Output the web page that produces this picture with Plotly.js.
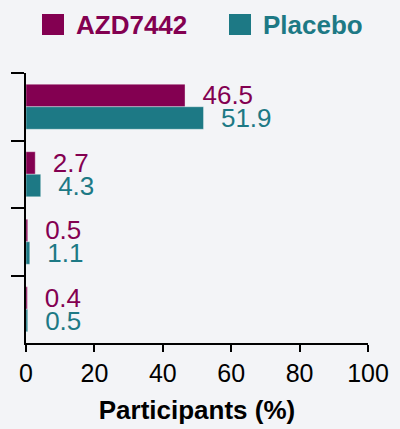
<!DOCTYPE html>
<html>
<head>
<meta charset="utf-8">
<script src="https://cdn.plot.ly/plotly-3.0.1.min.js"></script>
<style>html,body{margin:0;padding:0;background:#f3f4f7;}</style>
</head>
<body>
<div id="chart" style="width:400px;height:429px;"></div>
<script>
const categories = ["Cat 1", "Cat 2", "Cat 3", "Cat 4"];
const seriesNames = ["AZD7442", "Placebo"];
const azdValues = [46.5, 2.7, 0.5, 0.4];
const placeboValues = [51.9, 4.3, 1.1, 0.5];
const xTicks = [0, 20, 40, 60, 80, 100];
const colors = ["#830051", "#1d7985"];

const FONT = "Arial, 'Liberation Sans', sans-serif";

function barTrace(name, values, color) {
  return {
    type: "bar",
    orientation: "h",
    name: name,
    y: categories,
    x: values,
    marker: {color: color, line: {color: "rgba(255,255,255,0.35)", width: 1}},
    texttemplate: "  %{x}",
    textposition: "outside",
    textfont: {family: FONT, size: 26, color: color},
    constraintext: "none",
    cliponaxis: false,
    showlegend: false,
    hoverinfo: "x"
  };
}

const data = [
  barTrace(seriesNames[0], azdValues, colors[0]),
  barTrace(seriesNames[1], placeboValues, colors[1])
];

// custom legend (large square keys)
const W = 342, H = 270, L = 26, B = 343;
const px = v => (v - L) / W;
const py = v => (B - v) / H;
const legendItems = [
  {sq: [42, 64], tx: 74},
  {sq: [229, 251], tx: 261}
];
const shapes = legendItems.map((it, i) => ({
  type: "rect", xref: "paper", yref: "paper",
  x0: px(it.sq[0]), x1: px(it.sq[1]), y0: py(35), y1: py(14),
  fillcolor: colors[i], line: {width: 0}
}));
const annotations = legendItems.map((it, i) => ({
  xref: "paper", yref: "paper", x: px(it.tx), y: py(25),
  xanchor: "left", yanchor: "middle", showarrow: false,
  text: "<b>" + seriesNames[i] + "</b>",
  font: {family: FONT, size: 26, color: colors[i]}
}));

const layout = {
  width: 400, height: 429,
  margin: {l: 26, r: 32, t: 73, b: 86},
  paper_bgcolor: "#f3f4f7",
  plot_bgcolor: "#f3f4f7",
  barmode: "group",
  bargap: 0.333,
  bargroupgap: 0,
  font: {family: FONT, size: 25, color: "#000"},
  xaxis: {
    range: [0, 100],
    tickvals: xTicks,
    ticktext: xTicks.map(String),
    ticks: "outside", ticklen: 7, tickwidth: 2, tickcolor: "#000",
    showline: true, linewidth: 2, linecolor: "#000",
    showgrid: false, zeroline: false,
    tickfont: {family: FONT, size: 25, color: "#000"},
    title: {text: "<b>Participants (%)</b>", font: {family: FONT, size: 26, color: "#000"}, standoff: 15}
  },
  yaxis: {
    type: "category",
    range: [3.5, -0.5],
    ticks: "outside", tickson: "boundaries", ticklen: 13, tickwidth: 2, tickcolor: "#000",
    showticklabels: false,
    showline: true, linewidth: 2, linecolor: "#000",
    showgrid: false, zeroline: false
  },
  shapes: shapes,
  annotations: annotations,
  showlegend: false
};

Plotly.newPlot("chart", data, layout, {displayModeBar: false, staticPlot: true});
</script>
</body>
</html>
